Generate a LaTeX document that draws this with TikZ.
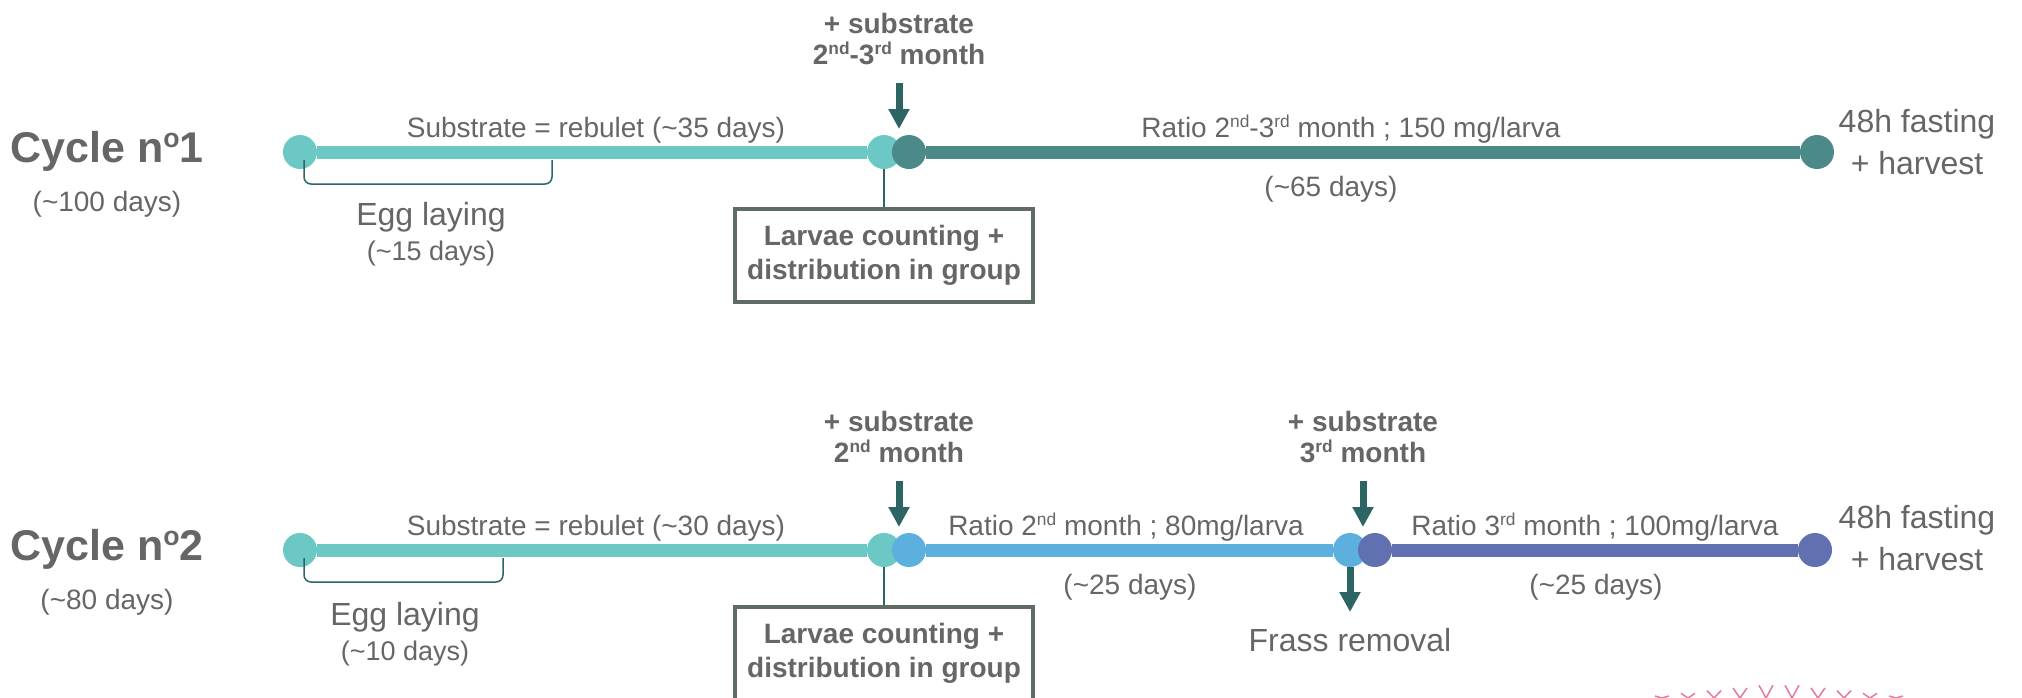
\documentclass[tikz,border=0pt]{standalone}
\usepackage{fontspec}
\setmainfont{Liberation Sans}
\usetikzlibrary{arrows.meta}

\definecolor{textgray}{HTML}{666666}
\definecolor{lteal}{HTML}{6CC8C4}
\definecolor{dteal}{HTML}{4B8A88}
\definecolor{lblue}{HTML}{5BB0DE}
\definecolor{mauve}{HTML}{6070B0}
\definecolor{arrowteal}{HTML}{2D6464}
\definecolor{boxgray}{HTML}{5E6C64}
\definecolor{pinkz}{HTML}{E07B9B}

\makeatletter
\newcommand\sups[1]{\raisebox{0.33em}{\fontsize{\fpeval{0.62*\f@size}}{0}\selectfont #1}}
\makeatother

\begin{document}
\begin{tikzpicture}[x=1pt, y=-1pt,
  dot/.style={circle, inner sep=0pt, minimum size=34pt},
  tl/.style={line width=13pt},
  lbl/.style={text=textgray, font=\fontsize{28}{31}\selectfont, anchor=base},
  big/.style={text=textgray, font=\fontsize{32}{35}\selectfont, anchor=base, align=center},
  fin/.style={big, font=\fontsize{32}{42}\selectfont},
  hdr/.style={text=textgray, font=\fontsize{28}{31}\selectfont\bfseries, anchor=base, align=center},
  cyc/.style={text=textgray, font=\fontsize{43}{48}\selectfont\bfseries, anchor=base},
  push/.style={draw=arrowteal, line width=7pt, -{Triangle[width=20pt,length=20pt]}},
  stem/.style={draw=arrowteal, line width=1.5pt},
  brace/.style={draw=arrowteal, line width=1.5pt, rounded corners=7pt},
  countbox/.style={draw=boxgray, line width=4pt, minimum width=298pt, minimum height=93pt,
    inner sep=0pt, text=textgray, font=\fontsize{28}{34}\selectfont\bfseries, align=center}]
\useasboundingbox (0,0) rectangle (2022,697);

% cycle 1
\node[cyc] (cyc1) at (107,162) {Cycle n\sups{o}1};
\node[lbl] (dur1) at (107,211) {(\textasciitilde100 days)};

\node[dot, fill=lteal] (s1) at (300,152) {};
\node[dot, fill=lteal] (a1) at (884,152) {};
\node[dot, fill=dteal] (b1) at (909,152) {};
\node[dot, fill=dteal] (e1) at (1817,152) {};
\draw[tl, lteal] (s1) -- (a1);
\draw[tl, dteal] (b1) -- (e1);

\draw[brace] (304,160) -- (304,184) -- (552,184) -- (552,160);
\node[big] (egg1) at (431,260) {Egg laying\\{\fontsize{27}{30}\selectfont(\textasciitilde15 days)}};
\node[lbl] (sub1) at (596,137) {Substrate = rebulet (\textasciitilde35 days)};

\node[hdr] (add1) at (899,64) {+ substrate\\2\sups{nd}-3\sups{rd} month};
\coordinate (in1) at (899,83);
\coordinate (tip1) at (899,129);
\draw[push] (in1) -- (tip1);

\node[countbox] (box1) at (884,255) {Larvae counting +\\distribution in group};
\draw[stem] (a1) -- (box1);

\node[lbl] (rat1) at (1351,137) {Ratio 2\sups{nd}-3\sups{rd} month ; 150 mg/larva};
\node[lbl] (d65) at (1331,196) {(\textasciitilde65 days)};
\node[fin] (end1) at (1917,174) {48h fasting\\+ harvest};

% cycle 2
\node[cyc] (cyc2) at (107,560) {Cycle n\sups{o}2};
\node[lbl] (dur2) at (107,609) {(\textasciitilde80 days)};

\node[dot, fill=lteal] (s2) at (300,550) {};
\node[dot, fill=lteal] (a2) at (884,550) {};
\node[dot, fill=lblue] (b2) at (909,550) {};
\node[dot, fill=lblue] (c2) at (1350,550) {};
\node[dot, fill=mauve] (d2) at (1375,550) {};
\node[dot, fill=mauve] (e2) at (1815,550) {};
\draw[tl, lteal] (s2) -- (a2);
\draw[tl, lblue] (b2) -- (c2);
\draw[tl, mauve] (d2) -- (e2);

\draw[brace] (304,558) -- (304,582) -- (503,582) -- (503,558);
\node[big] (egg2) at (405,660) {Egg laying\\{\fontsize{27}{30}\selectfont(\textasciitilde10 days)}};
\node[lbl] (sub2) at (596,535) {Substrate = rebulet (\textasciitilde30 days)};

\node[hdr] (add2) at (899,462) {+ substrate\\2\sups{nd} month};
\coordinate (in2) at (899,481);
\coordinate (tip2) at (899,527);
\draw[push] (in2) -- (tip2);

\node[hdr] (add3) at (1363,462) {+ substrate\\3\sups{rd} month};
\coordinate (in3) at (1363,481);
\coordinate (tip3) at (1363,527);
\draw[push] (in3) -- (tip3);

\coordinate (out3) at (1350,612);
\draw[push] (c2) -- (out3);
\node[big] (frass) at (1350,651) {Frass removal};

\node[countbox] (box2) at (884,653) {Larvae counting +\\distribution in group};
\draw[stem] (a2) -- (box2);

\node[lbl] (rat2) at (1126,535) {Ratio 2\sups{nd} month ; 80mg/larva};
\node[lbl] (d25a) at (1130,594) {(\textasciitilde25 days)};
\node[lbl] (rat3) at (1595,535) {Ratio 3\sups{rd} month ; 100mg/larva};
\node[lbl] (d25b) at (1596,594) {(\textasciitilde25 days)};
\node[fin] (end2) at (1917,570) {48h fasting\\+ harvest};

\begin{scope}
\clip (1600,660) rectangle (2000,697);
\foreach \k in {0,...,9}
  \draw[pinkz, line width=1.5pt] ({1655+26*\k},{684+12*abs(\k-4.5)/4.5}) -- ({1662+26*\k},698) -- ({1669+26*\k},{684+12*abs(\k-4.5)/4.5});
\end{scope}
\end{tikzpicture}
\end{document}
